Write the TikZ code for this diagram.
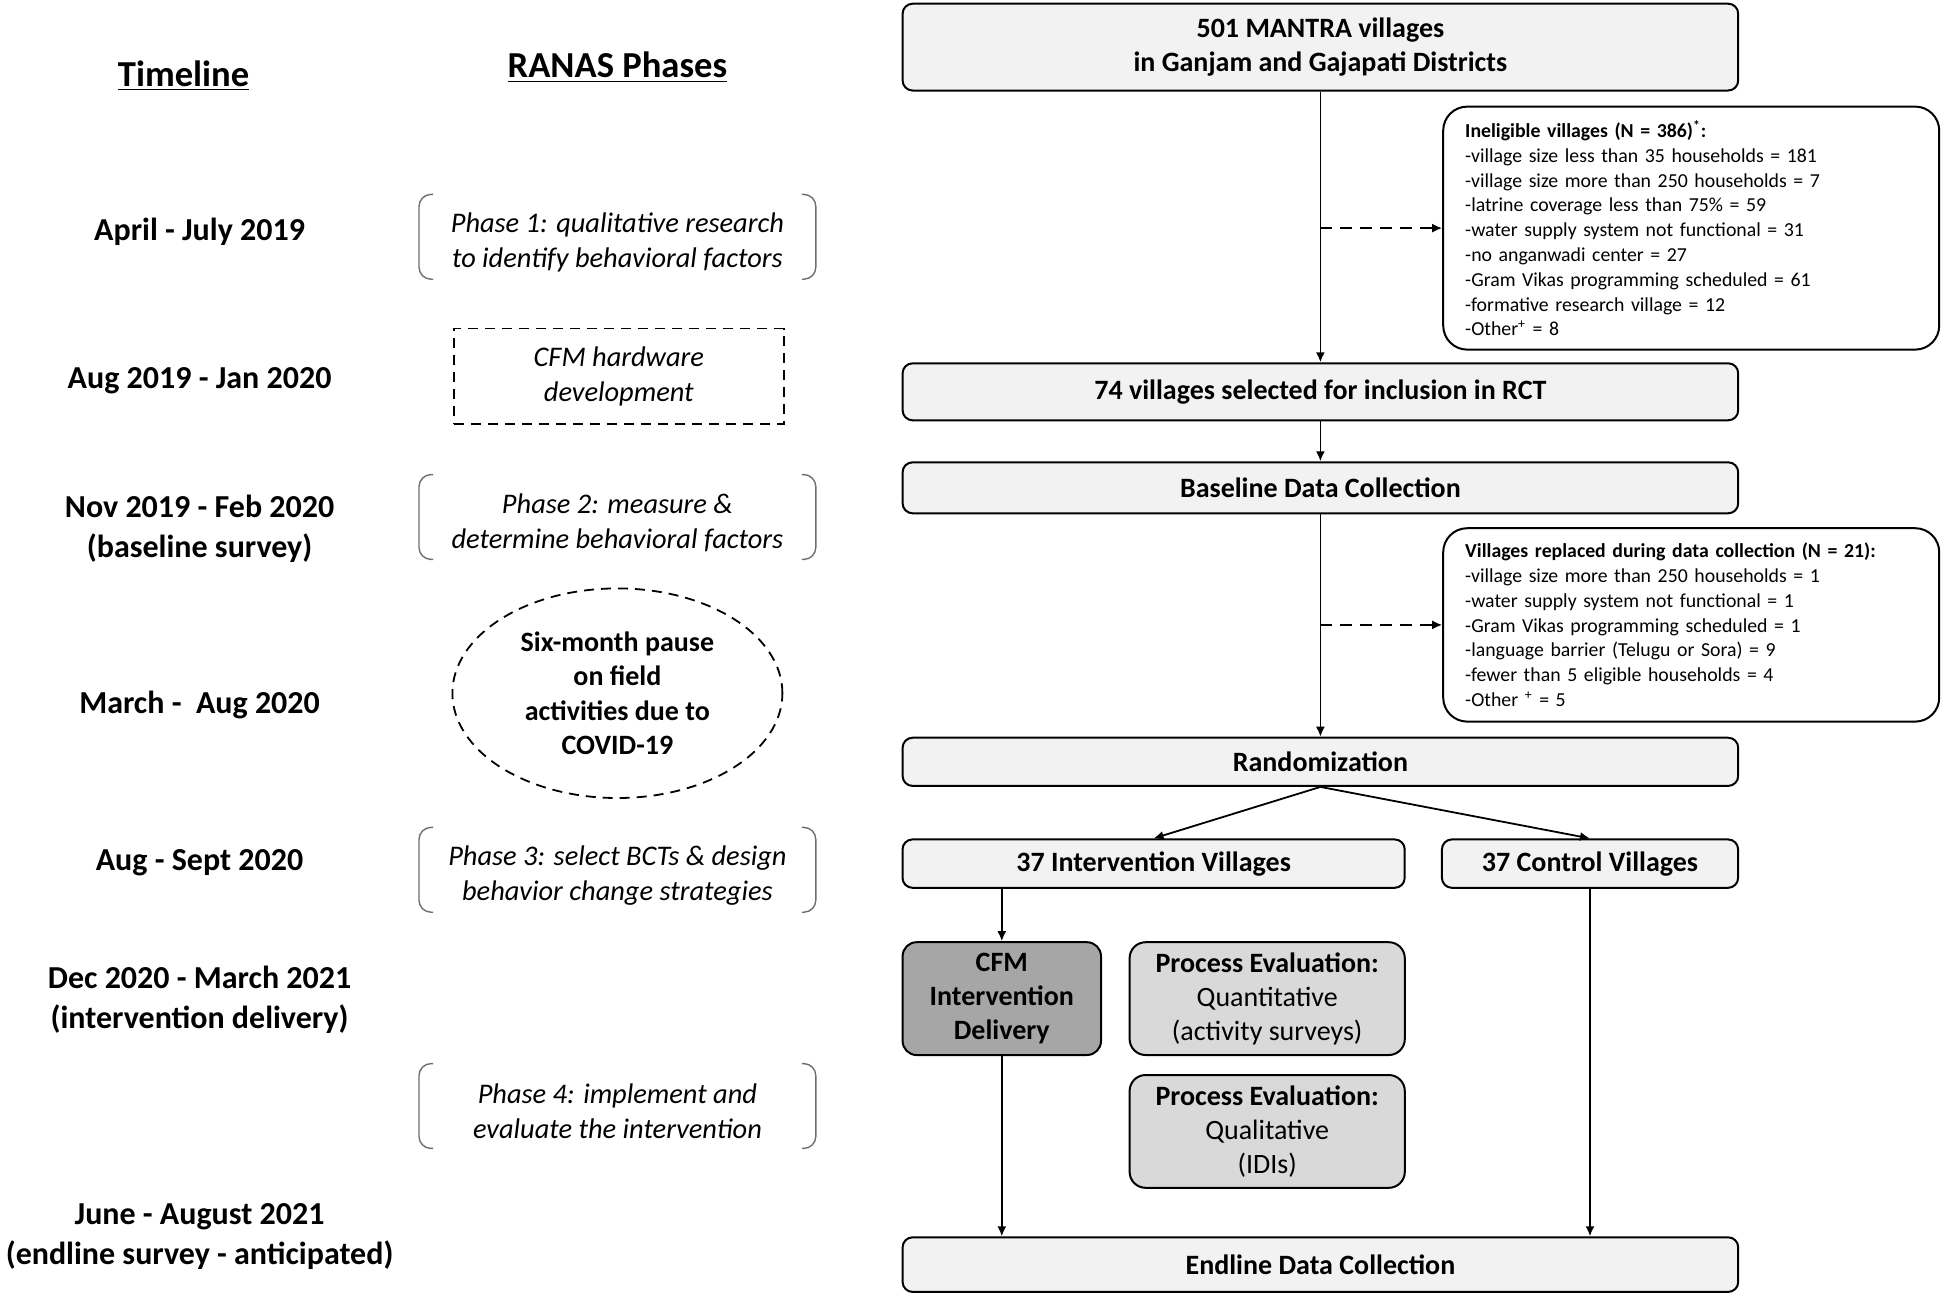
\documentclass[tikz,border=0pt]{standalone}
\usepackage{fontspec}
\setmainfont{Carlito}
\usetikzlibrary{arrows.meta,shapes.geometric}
\definecolor{boxgray}{HTML}{F2F2F2}
\definecolor{evalgray}{HTML}{D9D9D9}
\definecolor{cfmgray}{HTML}{A6A6A6}
\definecolor{brgray}{HTML}{6E6E6E}

\begin{document}
\begin{tikzpicture}[x=1pt,y=-1pt,
  box/.style={draw,rounded corners=5pt,fill=boxgray,line width=1pt,inner sep=0pt,
    align=center,font=\bfseries\fontsize{14}{17}\selectfont},
  listbox/.style={draw,rounded corners=12pt,line width=1pt,inner xsep=11pt,inner ysep=0pt,
    align=left,text width=226pt,minimum height=#1,font=\fontsize{9.9}{12.4}\selectfont},
  tl/.style={align=center,font=\bfseries\fontsize{16}{19.8}\selectfont},
  head/.style={font=\bfseries\fontsize{18.3}{21}\selectfont},
  phase/.style={align=center,minimum width=198pt,minimum height=42pt,inner sep=0pt,
    font=\itshape\fontsize{14.2}{17.4}\selectfont},
  arrow/.style={line width=0.9pt,-{Latex[length=5pt,width=4.5pt]}},
  dasharrow/.style={arrow,dash pattern=on 6pt off 4pt}]
  \useasboundingbox (0,0) rectangle (972,648.5);

  % timeline column
  \node[head] (tlhead) at (91.8,37.9) {\underline{Timeline}};
  \node[tl] (t1) at (99.8,115.7) {April - July 2019};
  \node[tl] (t2) at (99.8,190.2) {Aug 2019 - Jan 2020};
  \node[tl] (t3) at (99.8,264.3) {Nov 2019 - Feb 2020\\(baseline survey)};
  \node[tl] (t4) at (99.8,352.6) {March -\ \ Aug 2020};
  \node[tl] (t5) at (99.8,431.3) {Aug - Sept 2020};
  \node[tl] (t6) at (99.8,500) {Dec 2020 - March 2021\\(intervention delivery)};
  \node[tl] (t7) at (99.8,618.4) {June - August 2021\\(endline survey - anticipated)};

  % RANAS column
  \node[head] (rhead) at (308.7,33.6) {\underline{RANAS Phases}};
  \node[phase] (ph1) at (308.7,121.2) {Phase 1: qualitative research\\to identify behavioral factors};
  \node[phase] (ph2) at (308.7,261.3) {Phase 2: measure \&\\determine behavioral factors};
  \node[phase] (ph3) at (308.7,437.7) {Phase 3: select BCTs \& design\\behavior change strategies};
  \node[phase] (ph4) at (308.7,555.8) {Phase 4: implement and\\evaluate the intervention};
  \foreach \p in {ph1,ph2,ph3,ph4}{
    \draw[brgray,line width=0.7pt,rounded corners=6pt] ([xshift=7pt,yshift=2.8pt]\p.north west) -- ([yshift=2.8pt]\p.north west) -- ([yshift=2.8pt]\p.south west) -- ([xshift=7pt,yshift=2.8pt]\p.south west);
    \draw[brgray,line width=0.7pt,rounded corners=6pt] ([xshift=-7pt,yshift=2.8pt]\p.north east) -- ([yshift=2.8pt]\p.north east) -- ([yshift=2.8pt]\p.south east) -- ([xshift=-7pt,yshift=2.8pt]\p.south east);
  }
  \node[draw,line width=0.9pt,dash pattern=on 5pt off 3.5pt,minimum width=165pt,minimum height=47.7pt,inner sep=0pt,
    align=center,font=\itshape\fontsize{14.2}{17.4}\selectfont] (hw) at (309.4,188.1) {CFM hardware\\development};
  \node[ellipse,draw,line width=0.9pt,dash pattern=on 5pt off 3.5pt,minimum width=165pt,minimum height=104.8pt,inner sep=0pt,
    align=center,font=\bfseries\fontsize{14}{17.2}\selectfont] (pause) at (308.7,346.6) {Six-month pause\\on field\\activities due to\\COVID-19};

  % flow chart
  \node[box,minimum width=417.8pt,minimum height=43.4pt] (villages) at (660.2,23.55) {501 MANTRA villages\\in Ganjam and Gajapati Districts};
  \node[listbox=121.5pt] (inelig) at (845.6,114.05) {\textbf{Ineligible villages (N = 386)\textsuperscript{*}:}\\
    -village size less than 35 households = 181\\
    -village size more than 250 households = 7\\
    -latrine coverage less than 75\% = 59\\
    -water supply system not functional = 31\\
    -no anganwadi center = 27\\
    -Gram Vikas programming scheduled = 61\\
    -formative research village = 12\\
    -Other\textsuperscript{+} = 8};
  \node[box,minimum width=417.8pt,minimum height=28.5pt] (selected) at (660.2,195.9) {74 villages selected for inclusion in RCT};
  \node[box,minimum width=417.8pt,minimum height=25.5pt] (baseline) at (660.2,243.9) {Baseline Data Collection};
  \node[listbox=96.7pt] (replaced) at (845.6,312.45) {\textbf{Villages replaced during data collection (N = 21):}\\
    -village size more than 250 households = 1\\
    -water supply system not functional = 1\\
    -Gram Vikas programming scheduled = 1\\
    -language barrier (Telugu or Sora) = 9\\
    -fewer than 5 eligible households = 4\\
    -Other \textsuperscript{+} = 5};
  \node[box,minimum width=417.8pt,minimum height=24.1pt] (random) at (660.2,380.9) {Randomization};
  \node[box,minimum width=251.1pt,minimum height=24.2pt] (interv) at (576.8,431.8) {37 Intervention Villages};
  \node[box,minimum width=148.1pt,minimum height=24.2pt] (control) at (795,431.8) {37 Control Villages};
  \node[box,fill=cfmgray,rounded corners=7pt,minimum width=99.2pt,minimum height=56.4pt] (cfm) at (500.9,499.3) {CFM\\Intervention\\Delivery};
  \node[box,fill=evalgray,rounded corners=8pt,minimum width=137.6pt,minimum height=56.4pt] (quant) at (633.6,499.3) {Process Evaluation:\\\mdseries Quantitative\\\mdseries (activity surveys)};
  \node[box,fill=evalgray,rounded corners=8pt,minimum width=137.6pt,minimum height=56.4pt] (qual) at (633.6,565.7) {Process Evaluation:\\\mdseries Qualitative\\\mdseries (IDIs)};
  \node[box,minimum width=417.8pt,minimum height=27.3pt] (endline) at (660.2,632.3) {Endline Data Collection};

  \draw[arrow] (villages) -- (selected);
  \draw[dasharrow] (villages.south |- inelig.west) -- (inelig.west);
  \draw[arrow] (selected) -- (baseline);
  \draw[arrow] (baseline) -- (random);
  \draw[dasharrow] (baseline.south |- replaced.west) -- (replaced.west);
  \draw[arrow] (random.south) -- (interv.north);
  \draw[arrow] (random.south) -- (control.north);
  \draw[arrow] (cfm.north |- interv.south) -- (cfm.north);
  \draw[arrow] (cfm.south) -- (cfm.south |- endline.north);
  \draw[arrow] (control.south) -- (control.south |- endline.north);
\end{tikzpicture}
\end{document}
